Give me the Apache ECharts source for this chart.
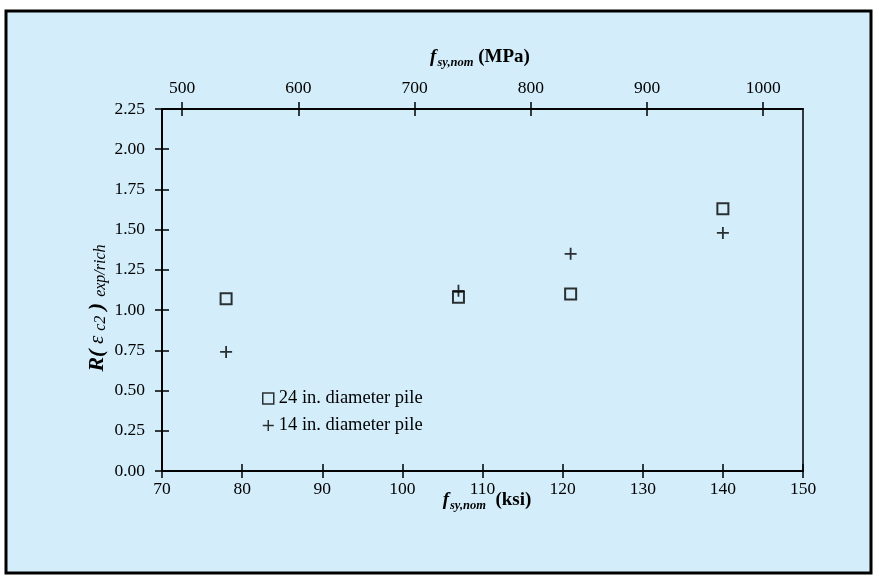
<!DOCTYPE html>
<html><head><meta charset="utf-8">
<script src="https://cdn.jsdelivr.net/npm/echarts@6/dist/echarts.min.js"></script>
<style>html,body{margin:0;padding:0;background:#fff}#c{width:879px;height:585px}</style>
</head><body><div id="c"></div>
<script>
// ---- data ----
const ksiX24 = [78, 107, 121, 140];
const ratio24 = [1.07, 1.08, 1.10, 1.63];
const ksiX14 = [78, 107, 121, 140];
const ratio14 = [0.74, 1.12, 1.35, 1.48];
const mpaTicks = [500, 600, 700, 800, 900, 1000];
const seriesNames = ['24 in. diameter pile', '14 in. diameter pile'];
const KSI_TO_MPA = 6.894757;

const FONT = 'Liberation Serif';
const chart = echarts.init(document.getElementById('c'));
const lbl = {color:'#000', fontFamily:FONT, fontSize:17.5};
const hidLbl = {show:true, color:'rgba(0,0,0,0)', fontSize:1};
const line = {show:true, onZero:false, lineStyle:{color:'#000', width:1.5}};
const tickOut = {show:true, inside:false, length:7, lineStyle:{color:'#000', width:1.5}};
const tickIn = {show:true, inside:true, length:7, lineStyle:{color:'#000', width:1.5}};

const plus = 'path://M0,5L10,5M5,0L5,10';
const sub = {fontFamily:FONT, fontStyle:'italic', fontWeight:'bold', fontSize:12.5, padding:[12,0,0,1], fill:'#000'};
const gridRect = {left:162, right:76, top:109, bottom:114};

chart.setOption({
  animation:false,
  backgroundColor:'#fff',
  graphic:[
    {type:'rect', z:-10, shape:{x:6, y:11, width:865, height:562}, style:{fill:'#d3eefa', stroke:'#000', lineWidth:3}},
    {type:'text', x:480, y:57, style:{text:'{f|f}{s|sy,nom}{u| (MPa)}', align:'center', verticalAlign:'middle',
      rich:{f:{fontFamily:FONT, fontStyle:'italic', fontWeight:'bold', fontSize:19, fill:'#000'}, s:sub,
            u:{fontFamily:FONT, fontWeight:'bold', fontSize:19, fill:'#000'}}}},
    {type:'text', x:487, y:500, style:{text:'{f|f}{s|sy,nom}{u|  (ksi)}', align:'center', verticalAlign:'middle',
      rich:{f:{fontFamily:FONT, fontStyle:'italic', fontWeight:'bold', fontSize:19, fill:'#000'}, s:sub,
            u:{fontFamily:FONT, fontWeight:'bold', fontSize:19, fill:'#000'}}}},
    {type:'text', x:97, y:308, rotation:Math.PI/2, style:{text:'{r|R( }{e|ε}{s| c2}{r| )}{t| exp/rich}', align:'center', verticalAlign:'middle',
      rich:{r:{fontFamily:FONT, fontStyle:'italic', fontWeight:'bold', fontSize:22, fill:'#000'},
            e:{fontFamily:FONT, fontStyle:'italic', fontSize:21, fill:'#000'},
            s:{fontFamily:FONT, fontStyle:'italic', fontSize:16, padding:[7,0,0,1], fill:'#000'},
            t:{fontFamily:FONT, fontStyle:'italic', fontSize:16, padding:[8,0,0,2], fill:'#000'}}}}
  ],
  grid:[
    Object.assign({show:true, borderColor:'#000', borderWidth:1.5, backgroundColor:'transparent'}, gridRect),
    Object.assign({show:false}, gridRect)
  ],
  legend:{
    orient:'vertical', left:257, top:384, itemGap:8, itemWidth:11, itemHeight:11,
    textStyle:{color:'#000', fontFamily:FONT, fontSize:18.5},
    data:[
      {name:seriesNames[0], icon:'rect', itemStyle:{color:'transparent', borderColor:'#000', borderWidth:1.5}},
      {name:seriesNames[1], icon:plus, itemStyle:{color:'transparent', borderColor:'#000', borderWidth:1.5}}
    ]
  },
  xAxis:[
    {gridIndex:0, type:'value', position:'bottom', min:70, max:150, interval:10, axisLine:line, axisTick:tickOut,
     axisLabel:Object.assign({margin:9}, lbl), splitLine:{show:false}},
    {gridIndex:0, type:'value', position:'top', min:70*KSI_TO_MPA, max:150*KSI_TO_MPA, axisLine:line,
     axisTick:Object.assign({customValues:mpaTicks}, tickOut),
     axisLabel:Object.assign({margin:12, customValues:mpaTicks, formatter:v=>String(v)}, lbl), splitLine:{show:false}},
    {gridIndex:1, type:'value', position:'bottom', min:70, max:150, interval:10, axisLine:line, axisTick:tickIn,
     axisLabel:hidLbl, splitLine:{show:false}},
    {gridIndex:1, type:'value', position:'top', min:70*KSI_TO_MPA, max:150*KSI_TO_MPA, axisLine:line,
     axisTick:Object.assign({customValues:mpaTicks}, tickIn),
     axisLabel:Object.assign({customValues:mpaTicks}, hidLbl), splitLine:{show:false}}
  ],
  yAxis:[
    {gridIndex:0, type:'value', position:'left', min:0, max:2.25, interval:0.25, axisLine:line, axisTick:tickOut,
     axisLabel:Object.assign({margin:17, formatter:v=>v.toFixed(2)}, lbl), splitLine:{show:false}},
    {gridIndex:1, type:'value', position:'left', min:0, max:2.25, interval:0.25, axisLine:line, axisTick:tickIn,
     axisLabel:hidLbl, splitLine:{show:false}}
  ],
  series:[
    {name:seriesNames[0], type:'scatter', xAxisIndex:0, yAxisIndex:0, symbol:'rect', symbolSize:11,
     itemStyle:{color:'transparent', borderColor:'#000', borderWidth:2},
     data:ksiX24.map((x,i)=>[x, ratio24[i]])},
    {name:seriesNames[1], type:'scatter', xAxisIndex:0, yAxisIndex:0, symbol:plus, symbolSize:12,
     itemStyle:{color:'transparent', borderColor:'#000', borderWidth:1.8},
     data:ksiX14.map((x,i)=>[x, ratio14[i]])},
    {name:'_ticks_bottom', type:'scatter', xAxisIndex:2, yAxisIndex:1, silent:true, data:[]},
    {name:'_ticks_top', type:'scatter', xAxisIndex:3, yAxisIndex:1, silent:true, data:[]}
  ]
});
</script></body></html>
